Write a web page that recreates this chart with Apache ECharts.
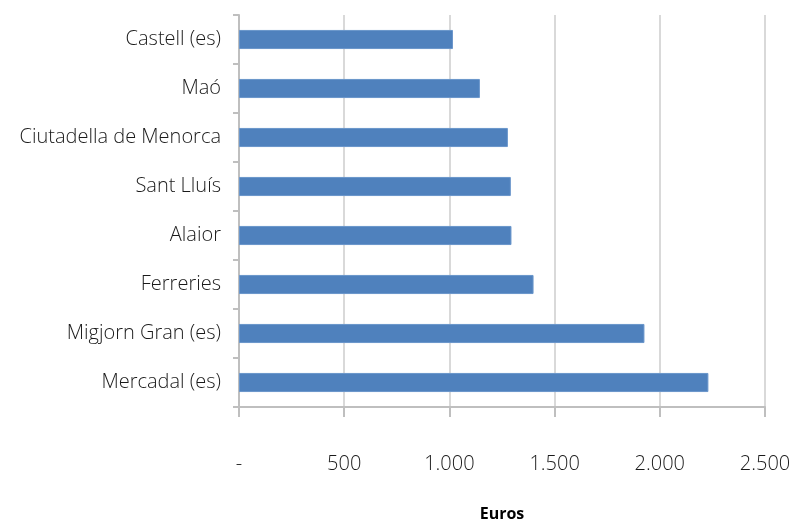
<!DOCTYPE html>
<html><head><meta charset="utf-8">
<script src="https://cdn.jsdelivr.net/npm/echarts@6/dist/echarts.min.js"></script>
<style>html,body{margin:0;padding:0;background:#fff}#c{width:795px;height:522px}</style>
</head><body><div id="c"></div>
<script>
const categories = ["Mercadal (es)","Migjorn Gran (es)","Ferreries","Alaior","Sant Lluís","Ciutadella de Menorca","Maó","Castell (es)"];
const values = [2231, 1927, 1400, 1295, 1292, 1278, 1145, 1017];
const xTickLabels = {0:"-",500:"500",1000:"1.000",1500:"1.500",2000:"2.000",2500:"2.500"};
const xName = "Euros";
const font = "Open Sans";
const chart = echarts.init(document.getElementById('c'), null, {renderer:'canvas'});
chart.setOption({
  animation:false,
  grid:{left:239,right:30,top:15,bottom:115,containLabel:false,outerBoundsMode:'none'},
  xAxis:{type:'value',min:0,max:2500,interval:500,
    name:xName,nameLocation:'middle',nameGap:99,
    nameTextStyle:{fontFamily:font,fontWeight:'bold',fontSize:16,color:'#000'},
    axisLine:{show:true,lineStyle:{color:'#bfbfbf',width:2}},
    axisTick:{show:true,length:10,lineStyle:{color:'#bfbfbf',width:2}},
    splitLine:{show:true,lineStyle:{color:'#d9d9d9',width:2}},
    axisLabel:{margin:47,fontFamily:font,fontWeight:300,fontSize:20,color:'#1a1a1a',formatter:v=>xTickLabels[v]}
  },
  yAxis:{type:'category',data:categories,
    axisLine:{show:true,lineStyle:{color:'#bfbfbf',width:2}},
    axisTick:{show:true,length:6,lineStyle:{color:'#bfbfbf',width:2}},
    axisLabel:{margin:18,fontFamily:font,fontWeight:300,fontSize:20,color:'#1a1a1a'}
  },
  series:[{type:'bar',data:values,barCategoryGap:'61%',
    itemStyle:{color:'#4F81BD',borderColor:'#6a96cb',borderWidth:1}}]
});
</script></body></html>
